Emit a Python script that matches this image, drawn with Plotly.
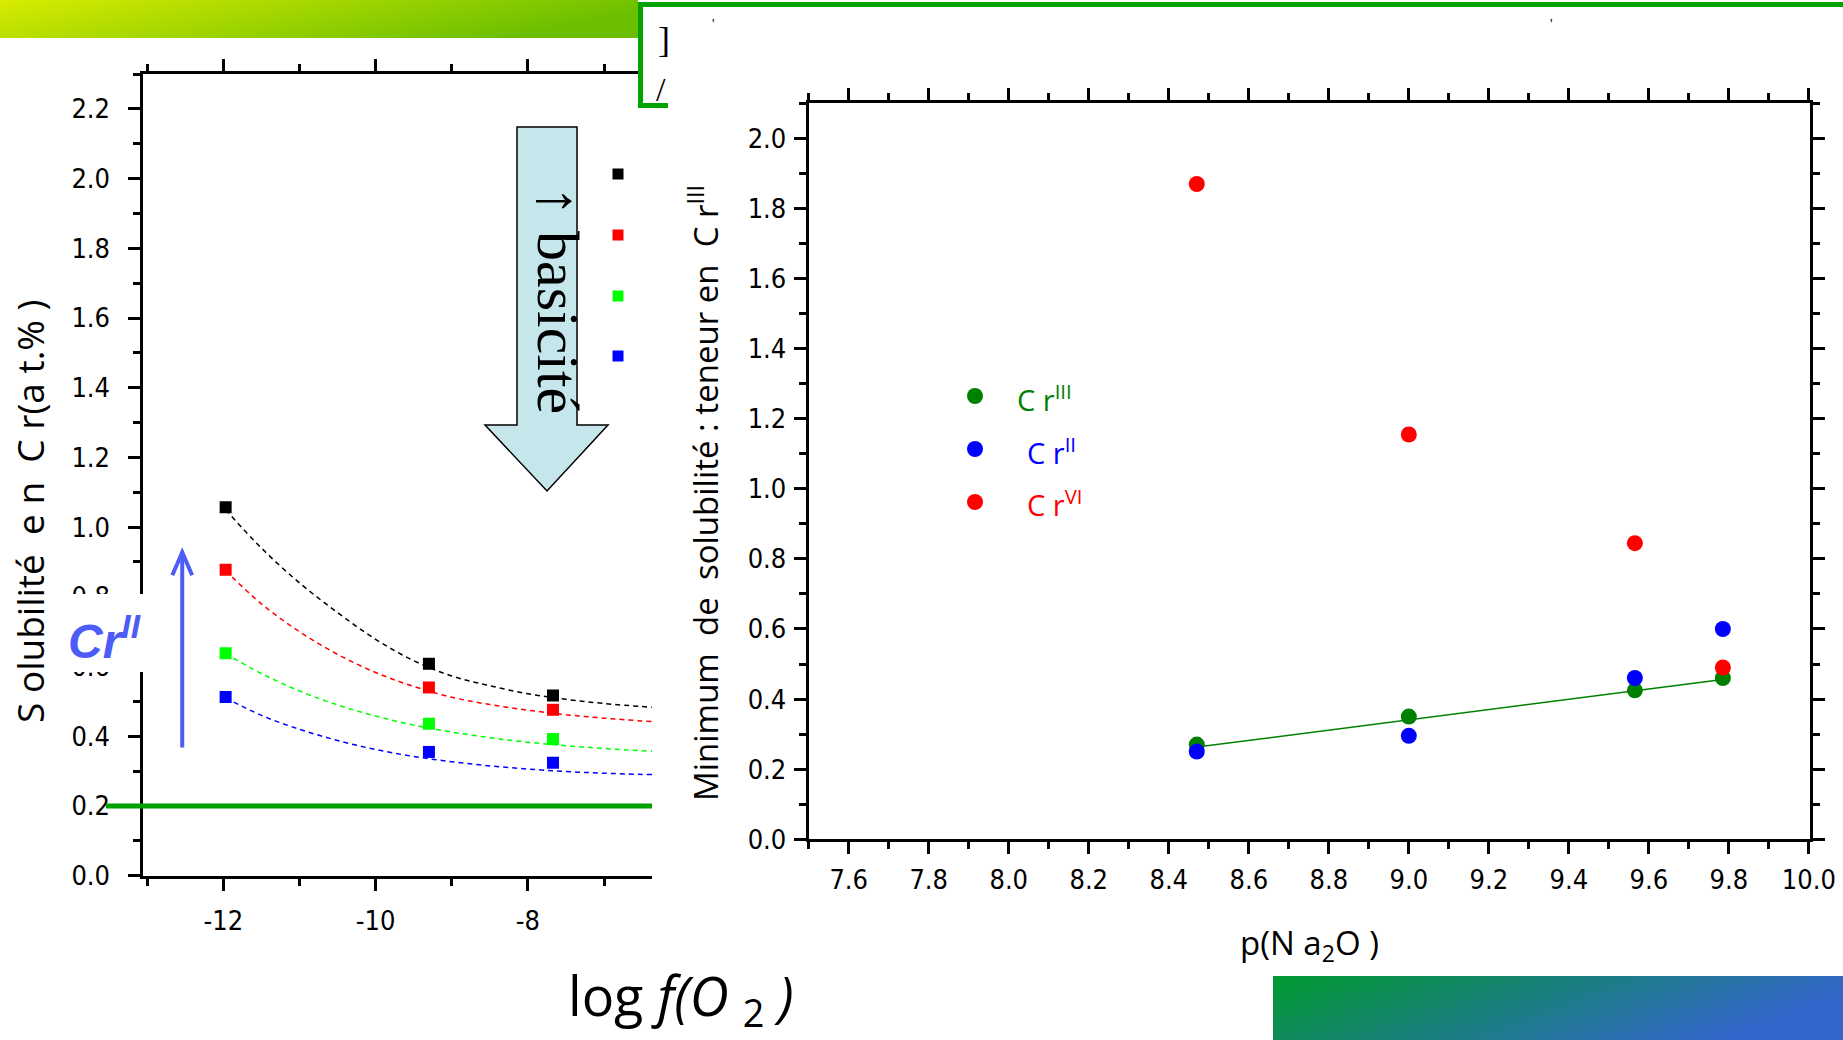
import base64
import plotly.graph_objects as go

W, H = 1843, 1040

# ---------------- data : left chart (solubility vs log f(O2)) ----------------
lo2_x = [-11.97, -9.30, -7.67]
sol_black = [1.057, 0.608, 0.517]
sol_red = [0.878, 0.540, 0.476]
sol_green = [0.638, 0.436, 0.392]
sol_blue = [0.513, 0.355, 0.324]

fit_lo2_x = [-11.97, -11.5, -11.0, -10.5, -10.0, -9.5, -9.0, -8.5, -8.0, -7.5, -7.0, -6.37]
fit_black = [1.05, 0.94, 0.84, 0.755, 0.678, 0.617, 0.573, 0.545, 0.522, 0.506, 0.494, 0.483]
fit_red = [0.875, 0.78, 0.70, 0.635, 0.583, 0.543, 0.512, 0.491, 0.475, 0.462, 0.452, 0.442]
fit_green = [0.637, 0.58, 0.53, 0.49, 0.458, 0.432, 0.412, 0.396, 0.383, 0.373, 0.365, 0.357]
fit_blue = [0.51, 0.46, 0.42, 0.388, 0.362, 0.342, 0.327, 0.315, 0.306, 0.299, 0.294, 0.29]
solubility_limit = 0.2
left_legend_colors = ["#000000", "#ff0000", "#00ff00", "#0000ff"]
left_xticks = [-12, -10, -8]
left_xtick_labels = ["-12", "-10", "-8"]

# ---------------- data : right chart (minimum of solubility vs p(Na2O)) ----------------
p_na2o = [8.47, 9.00, 9.565, 9.785]
min_cr3 = [0.270, 0.350, 0.425, 0.460]
min_cr2 = [0.250, 0.295, 0.460, 0.600]
min_cr6 = [1.870, 1.155, 0.845, 0.490]
fit_p = [8.47, 9.785]
fit_cr3 = [0.263, 0.456]
right_legend = [("#008000", "C r<sup>III</sup>"), ("#0000ff", "C r<sup>II</sup>"), ("#ff0000", "C r<sup>VI</sup>")]


def fx(px):
    return px / W


def fy(py):
    return 1 - py / H


TICKFONT = dict(family="Liberation Sans Narrow, DejaVu Sans Condensed, sans-serif", size=27, color="black")
SANS = "Open Sans, Noto Sans, DejaVu Sans, sans-serif"

fig = go.Figure()

# left chart: fitted dashed curves + measured squares
for yv, col in zip([fit_black, fit_red, fit_green, fit_blue], left_legend_colors):
    fig.add_trace(go.Scatter(x=fit_lo2_x, y=yv, mode="lines", line=dict(color=col, width=1.5, dash="5px,4px", shape="spline"),
                             xaxis="x", yaxis="y", showlegend=False, hoverinfo="skip"))
for yv, col in zip([sol_black, sol_red, sol_green, sol_blue], left_legend_colors):
    fig.add_trace(go.Scatter(x=lo2_x, y=yv, mode="markers", marker=dict(symbol="square", size=12, color=col),
                             xaxis="x", yaxis="y", showlegend=False))

# right chart
fig.add_trace(go.Scatter(x=fit_p, y=fit_cr3, mode="lines", line=dict(color="#008000", width=1.5),
                         xaxis="x2", yaxis="y2", showlegend=False, hoverinfo="skip"))
for yv, col in [(min_cr3, "#008000"), (min_cr2, "#0000ff"), (min_cr6, "#ff0000")]:
    fig.add_trace(go.Scatter(x=p_na2o, y=yv, mode="markers", marker=dict(symbol="circle", size=16, color=col),
                             xaxis="x2", yaxis="y2", showlegend=False, cliponaxis=False))

# legend symbols drawn in a full-page pixel subplot
fig.add_trace(go.Scatter(x=[618] * 4, y=[174, 235, 296, 356], mode="markers",
                         marker=dict(symbol="square", size=11, color=left_legend_colors),
                         xaxis="x3", yaxis="y3", showlegend=False, hoverinfo="skip"))
fig.add_trace(go.Scatter(x=[975] * 3, y=[396, 449, 502], mode="markers",
                         marker=dict(symbol="circle", size=16, color=[c for c, _ in right_legend]),
                         xaxis="x3", yaxis="y3", showlegend=False, hoverinfo="skip"))

axis_common = dict(showline=True, linecolor="black", showgrid=False, zeroline=False, ticks="outside",
                   ticklen=12, tickwidth=2.5, tickcolor="black", tickfont=TICKFONT, fixedrange=True,
                   automargin=False)
minor_common = dict(ticks="outside", ticklen=7, tickwidth=2.5, tickcolor="black")

fig.update_layout(
    width=W, height=H, autosize=False,
    margin=dict(l=0, r=0, t=0, b=0, pad=0, autoexpand=False),
    paper_bgcolor="white", plot_bgcolor="rgba(0,0,0,0)", showlegend=False,
    xaxis=dict(axis_common, domain=[fx(143.4), fx(652)], range=[-13.05, -6.37], anchor="y",
               tickmode="array", tickvals=left_xticks, ticktext=left_xtick_labels,
               linewidth=3, mirror="ticks", ticklabelstandoff=7,
               minor=dict(minor_common, dtick=1, tick0=-12)),
    yaxis=dict(axis_common, domain=[fy(875.7), fy(74)], range=[0, 2.3], anchor="x",
               tick0=0, dtick=0.2, tickformat=".1f", linewidth=3, ticklabelstandoff=13,
               minor=dict(minor_common, dtick=0.1, tick0=0)),
    xaxis2=dict(axis_common, domain=[fx(808.7), fx(1810.1)], range=[7.5, 10.003], anchor="y2",
                tick0=7.6, dtick=0.2, tickformat=".1f", linewidth=3, mirror="ticks", ticklabelstandoff=2,
                minor=dict(minor_common, dtick=0.1, tick0=7.5)),
    yaxis2=dict(axis_common, domain=[fy(839.2), fy(103.4)], range=[0, 2.1], anchor="x2",
                tick0=0, dtick=0.2, tickformat=".1f", linewidth=3, mirror="ticks", ticklabelstandoff=2,
                minor=dict(minor_common, dtick=0.1, tick0=0)),
    xaxis3=dict(domain=[0, 1], range=[0, W], visible=False, fixedrange=True, anchor="y3", automargin=False),
    yaxis3=dict(domain=[0, 1], range=[H, 0], visible=False, fixedrange=True, anchor="x3", automargin=False),
)


def svg_gradient(w, h, c0, c1):
    svg = (f"<svg xmlns='http://www.w3.org/2000/svg' width='{w}' height='{h}' viewBox='0 0 {w} {h}' preserveAspectRatio='none'>"
           f"<defs><linearGradient id='g' x1='0' y1='0' x2='1' y2='0.3'><stop offset='0' stop-color='{c0}'/>"
           f"<stop offset='1' stop-color='{c1}'/></linearGradient></defs>"
           f"<rect x='0' y='0' width='{w}' height='{h}' fill='url(#g)'/></svg>")
    return "data:image/svg+xml;base64," + base64.b64encode(svg.encode()).decode()


fig.add_layout_image(dict(source=svg_gradient(638, 38, "#d8ec00", "#6cbf00"), xref="paper", yref="paper",
                          x=0, y=1, sizex=fx(638), sizey=38 / H, xanchor="left", yanchor="top",
                          sizing="stretch", layer="above"))
fig.add_layout_image(dict(source=svg_gradient(570, 64, "#00992e", "#3366cc"), xref="paper", yref="paper",
                          x=fx(1273), y=fy(976), sizex=fx(570), sizey=64 / H, xanchor="left", yanchor="top",
                          sizing="stretch", layer="above"))

shapes = []
# hide end of left chart top axis inside the framed box
shapes.append(dict(type="rect", xref="paper", yref="paper", x0=fx(643), x1=fx(660), y0=fy(96), y1=fy(58),
                   fillcolor="white", line=dict(width=0), layer="above"))
# green frame of the title box
GREEN = "#00a300"
shapes.append(dict(type="line", xref="paper", yref="paper", x0=fx(638), x1=1, y0=fy(4.5), y1=fy(4.5),
                   line=dict(color=GREEN, width=5), layer="above"))
shapes.append(dict(type="line", xref="paper", yref="paper", x0=fx(640.5), x1=fx(640.5), y0=fy(2), y1=fy(108),
                   line=dict(color=GREEN, width=5), layer="above"))
shapes.append(dict(type="line", xref="paper", yref="paper", x0=fx(638), x1=fx(668), y0=fy(105.5), y1=fy(105.5),
                   line=dict(color=GREEN, width=5), layer="above"))
# basicité arrow
pts = [(517, 127), (577, 127), (577, 425), (608, 425), (547, 491), (485, 425), (517, 425)]
path = "M " + " L ".join(f"{fx(a):.5f},{fy(b):.5f}" for a, b in pts) + " Z"
shapes.append(dict(type="path", xref="paper", yref="paper", path=path, fillcolor="#c5e6ea",
                   line=dict(color="black", width=1.5), layer="above"))
# white box behind Cr(II) label
shapes.append(dict(type="rect", xref="paper", yref="paper", x0=fx(58), x1=fx(147), y0=fy(672), y1=fy(594),
                   fillcolor="white", line=dict(width=0), layer="above"))
# blue Cr(II) arrow
BLUE_A = "#4d5cf6"
shapes.append(dict(type="line", xref="x", yref="y", x0=-12.54, x1=-12.54, y0=0.368, y1=0.925,
                   line=dict(color=BLUE_A, width=4), layer="above"))
shapes.append(dict(type="path", xref="x", yref="y", path="M -12.67,0.862 L -12.54,0.928 L -12.41,0.862",
                   line=dict(color=BLUE_A, width=4), layer="above"))
# green solubility limit line
shapes.append(dict(type="line", xref="paper", yref="y", x0=fx(106), x1=fx(652), y0=solubility_limit, y1=solubility_limit,
                   line=dict(color="#00a000", width=5), layer="above"))
fig.update_layout(shapes=shapes)


def note(px, py, text, font, angle=0, xanchor="center"):
    return dict(xref="paper", yref="paper", x=fx(px), y=fy(py), text=text, textangle=angle, showarrow=False,
                xanchor=xanchor, yanchor="middle", font=font)


ann = []
ann.append(note(29, 512, "S olubilité  e n  C r(a t.% )", dict(family=SANS, size=37, color="black"), -90))
ann.append(note(703, 493, "Minimum  de  solubilité : teneur en  C r<sup>III</sup>",
                dict(family=SANS, size=33, color="black"), -90))
ann.append(note(1309, 944, "p(N a<sub>2</sub>O )", dict(family=SANS, size=33, color="black")))
ann.append(note(681, 998, "log <i>f(O</i> <sub>2</sub> <i>)</i>", dict(family=SANS, size=54, color="black")))
ann.append(note(558, 300, "↑ basicité", dict(family="Liberation Serif, DejaVu Serif, serif", size=60, color="black"), 90))
ann.append(note(104, 638, "<b><i>Cr<sup>II</sup></i></b>", dict(family="Liberation Sans, Arial, sans-serif", size=48, color=BLUE_A)))
for (col, txt), px, py in zip(right_legend, [1015, 1025, 1025], [398, 451, 503]):
    ann.append(note(px, py, txt, dict(family=SANS, size=29, color=col), xanchor="left"))
# fragments of the hidden title
ann.append(note(664, 40, "]", dict(family="Liberation Serif, serif", size=36, color="black")))
ann.append(note(661, 89, "/", dict(family="Liberation Serif, serif", size=34, color="black")))
for px in [713, 1551]:
    ann.append(note(px, 24, "'", dict(family="Liberation Serif, serif", size=14, color="black")))
fig.update_layout(annotations=ann)

fig.write_html("out.html", config={"displayModeBar": False},
               post_script="document.documentElement.style.overflow='hidden';document.body.style.margin='0';document.body.style.overflow='hidden';")
